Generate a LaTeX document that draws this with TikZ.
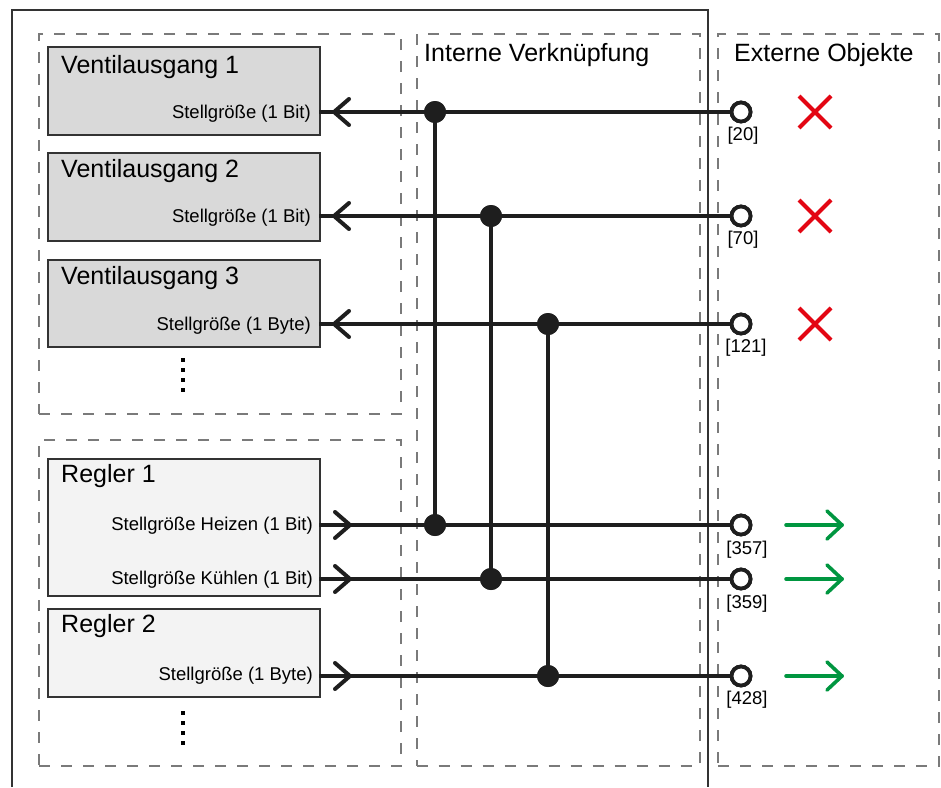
\documentclass[tikz,border=0pt]{standalone}
\usepackage{fontspec}
\setmainfont{Liberation Sans}
\usetikzlibrary{calc}
\definecolor{conncol}{HTML}{1E1E1E}
\definecolor{boxborder}{HTML}{333333}
\definecolor{dashgray}{HTML}{7A7A7A}
\definecolor{vfill}{HTML}{D9D9D9}
\definecolor{rfill}{HTML}{F3F3F3}
\definecolor{xred}{HTML}{E30613}
\definecolor{okgreen}{HTML}{009640}
\tikzset{
  group/.style={draw=dashgray, line width=2pt, dash pattern=on 11pt off 11pt, anchor=north west, inner sep=0pt},
  vbox/.style={draw=boxborder, fill=vfill, line width=2pt, anchor=north west, inner sep=0pt, minimum width=272pt},
  rbox/.style={draw=boxborder, fill=rfill, line width=2pt, anchor=north west, inner sep=0pt, minimum width=272pt},
  title/.style={anchor=west, inner sep=0pt, font=\fontsize{25}{28}\selectfont},
  header/.style={anchor=west, inner sep=0pt, font=\fontsize{25}{28}\selectfont},
  sublabel/.style={anchor=east, inner sep=0pt, font=\fontsize{18.5}{21}\selectfont},
  numlabel/.style={inner sep=0pt, font=\fontsize{18.5}{21}\selectfont},
  conn/.style={draw=conncol, line width=4.2pt},
  barb/.style={draw=conncol, line width=4pt, line cap=round, line join=round},
  junction/.style={circle, fill=conncol, inner sep=0pt, minimum size=22pt},
  port/.style={circle, draw=conncol, fill=white, line width=3.8pt, inner sep=0pt, minimum size=19pt},
  redx/.style={draw=xred, line width=4pt},
  greenarrow/.style={draw=okgreen, line width=3.6pt, line cap=round, line join=round},
  ell/.style={fill=black, minimum size=4.5pt, inner sep=0pt}
}
\begin{document}
\begin{tikzpicture}[x=1pt, y=-1pt]
\useasboundingbox (0,0) rectangle (941,787);
% outer frame
\draw[boxborder, line width=1.8pt] (12,787) -- (12,10) -- (708,10) -- (708,787);
% dashed groups
\node[group, minimum width=362pt, minimum height=380pt] (gV) at (38,33) {};
\node[group, minimum width=362pt, minimum height=326pt] (gR) at (38,439) {};
\node[group, minimum width=283pt, minimum height=732pt] (gI) at (415.5,33) {};
\node[group, minimum width=221pt, minimum height=732pt] (gE) at (717,33) {};
\node[header] (hI) at (424,55) {Interne Verknüpfung};
\node[header] (hE) at (734,55) {Externe Objekte};
% Ventilausgang boxes
\node[vbox, minimum height=88pt] (v1) at (47,46) {};
\node[vbox, minimum height=88pt] (v2) at (47,152) {};
\node[vbox, minimum height=87pt] (v3) at (47,259) {};
\node[title] at (61,67) {Ventilausgang 1};
\node[title] at (61,171) {Ventilausgang 2};
\node[title] at (61,278) {Ventilausgang 3};
\node[sublabel] (s1) at (311,114) {Stellgröße (1 Bit)};
\node[sublabel] (s2) at (311,218) {Stellgröße (1 Bit)};
\node[sublabel] (s3) at (311,326) {Stellgröße (1 Byte)};
% Regler boxes
\node[rbox, minimum height=137pt] (r1) at (47,458) {};
\node[rbox, minimum height=88pt] (r2) at (47,608) {};
\node[title] at (61,476) {Regler 1};
\node[title] at (61,626) {Regler 2};
\node[sublabel] (s4) at (313,526) {Stellgröße Heizen (1 Bit)};
\node[sublabel] (s5) at (313,580) {Stellgröße Kühlen (1 Bit)};
\node[sublabel] (s6) at (313,676) {Stellgröße (1 Byte)};
% ellipsis dots
\foreach \yy in {360,370,380,390} {\node[ell] at (183,\yy) {};}
\foreach \yy in {713,723,733,743} {\node[ell] at (183,\yy) {};}
% box output points
\coordinate (o1) at (319,112);
\coordinate (o2) at (319,216);
\coordinate (o3) at (319,324);
\coordinate (o4) at (319,525);
\coordinate (o5) at (319,579);
\coordinate (o6) at (319,676);
% ports
\node[port] (c1) at (741,112) {};
\node[port] (c2) at (741,216) {};
\node[port] (c3) at (741,324) {};
\node[port] (c4) at (741,525) {};
\node[port] (c5) at (741,579) {};
\node[port] (c6) at (741,676) {};
\node[numlabel] at (743,136) {[20]};
\node[numlabel] at (743,240) {[70]};
\node[numlabel] at (746,348) {[121]};
\node[numlabel] at (747,550) {[357]};
\node[numlabel] at (747,604) {[359]};
\node[numlabel] at (747,700) {[428]};
% junctions
\node[junction] (j1) at (435,112) {};
\node[junction] (j2) at (491,216) {};
\node[junction] (j3) at (548,324) {};
\node[junction] (j4) at (435,525) {};
\node[junction] (j5) at (491,579) {};
\node[junction] (j6) at (548,676) {};
% connectors
\draw[conn] (o1) -- (c1.west);
\draw[conn] (o2) -- (c2.west);
\draw[conn] (o3) -- (c3.west);
\draw[conn] (o4) -- (c4.west);
\draw[conn] (o5) -- (c5.west);
\draw[conn] (o6) -- (c6.west);
\draw[conn] (j1.center) -- (j4.center);
\draw[conn] (j2.center) -- (j5.center);
\draw[conn] (j3.center) -- (j6.center);
% redraw junctions and ports on top
\node[junction] at (j1) {};
\node[junction] at (j2) {};
\node[junction] at (j3) {};
\node[junction] at (j4) {};
\node[junction] at (j5) {};
\node[junction] at (j6) {};
\node[port] at (c1) {};
\node[port] at (c2) {};
\node[port] at (c3) {};
\node[port] at (c4) {};
\node[port] at (c5) {};
\node[port] at (c6) {};
% arrow barbs
\draw[barb] (349,99) -- (334,112) -- (349,125);
\draw[barb] (349,203) -- (334,216) -- (349,229);
\draw[barb] (349,311) -- (334,324) -- (349,337);
\draw[barb] (335,512) -- (350,525) -- (335,538);
\draw[barb] (335,566) -- (350,579) -- (335,592);
\draw[barb] (335,663) -- (350,676) -- (335,689);
% red crosses
\foreach \yy in {112,216,324} {
  \draw[redx] (799,\yy-16) -- (831,\yy+16) (799,\yy+16) -- (831,\yy-16);
}
% green arrows
\foreach \yy in {525,579,676} {
  \draw[greenarrow] (786,\yy) -- (842,\yy);
  \draw[greenarrow] (827,\yy-14) -- (842,\yy) -- (827,\yy+14);
}
\end{tikzpicture}
\end{document}
